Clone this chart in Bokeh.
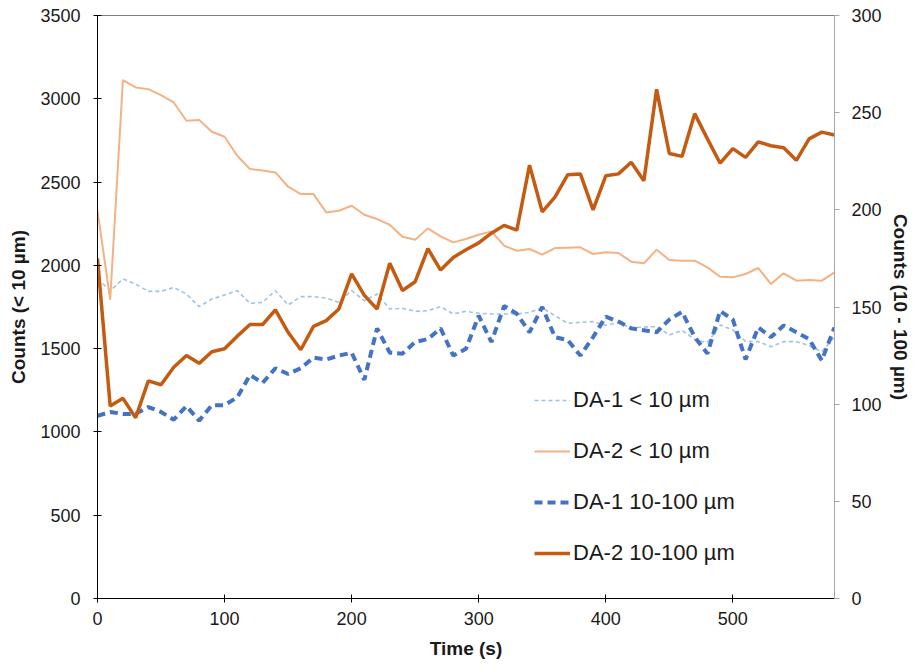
from bokeh.plotting import figure
from bokeh.models import Range1d, LinearAxis, FixedTicker, Legend, LegendItem, Span
from bokeh.embed import file_html
from bokeh.resources import INLINE

time_s = list(range(0, 590, 10))

da2_small = [2328, 1794, 3112, 3068, 3058, 3022, 2978, 2868, 2872, 2802,
             2772, 2658, 2578, 2570, 2558, 2472, 2428, 2428, 2318, 2328,
             2358, 2304, 2278, 2244, 2172, 2154, 2222, 2174, 2138, 2158,
             2184, 2204, 2118, 2088, 2098, 2064, 2104, 2106, 2108, 2068,
             2078, 2074, 2022, 2012, 2094, 2032, 2028, 2028, 1988, 1932,
             1928, 1948, 1984, 1888, 1952, 1908, 1912, 1908, 1958]

da1_small = [1920, 1848, 1918, 1888, 1844, 1844, 1868, 1828, 1752, 1798,
             1822, 1848, 1772, 1778, 1848, 1762, 1812, 1812, 1804, 1778,
             1848, 1788, 1828, 1738, 1742, 1724, 1728, 1752, 1708, 1724,
             1712, 1708, 1708, 1708, 1718, 1744, 1698, 1652, 1658, 1662,
             1640, 1655, 1625, 1630, 1632, 1582, 1610, 1555, 1535, 1642,
             1612, 1544, 1542, 1512, 1542, 1542, 1518, 1482, 1568]

da2_large = [175, 99, 103, 93, 112, 110, 119, 125, 121, 127,
             128.5, 135, 141, 141, 148.5, 137, 128, 140, 143, 149,
             167, 156, 149, 172.5, 158.5, 163, 180, 169, 175.5, 179.5,
             183, 188, 192, 189.5, 223, 199, 206.5, 218, 218.5, 200,
             217.5, 218.5, 224.5, 215, 262, 229, 227.5, 249.5, 236.5, 224,
             231.5, 227, 235, 233, 232, 225.5, 236.5, 240, 238.5]

da1_large = [94, 96, 95, 95, 98.5, 96, 92, 99, 91.5, 99.5,
             99.5, 103.5, 115, 111, 118.5, 115.5, 118.5, 124, 123, 125,
             126.5, 112.5, 139, 126.5, 126, 132, 133.5, 139, 125, 128.5,
             145.5, 132, 150.5, 146.5, 137, 150, 134.5, 133, 125, 134.5,
             145, 142.5, 139, 138, 137, 143.5, 147.5, 134.5, 126, 148,
             143.5, 123, 139.5, 134.5, 140.5, 137, 133.5, 122.5, 139.5]

x_ticks = [0, 100, 200, 300, 400, 500]
left_ticks = [0, 500, 1000, 1500, 2000, 2500, 3000, 3500]
right_ticks = [0, 50, 100, 150, 200, 250, 300]
labels = ["DA-1 < 10 µm", "DA-2 < 10 µm", "DA-1 10-100 µm", "DA-2 10-100 µm"]

FONT = "Liberation Sans"
TXT = "#1a1a1a"

p = figure(width=913, height=663, output_backend="svg", toolbar_location=None,
           x_range=Range1d(0, 580), y_range=Range1d(0, 3500),
           min_border_left=97, min_border_right=78, min_border_top=15, min_border_bottom=65)
p.extra_y_ranges = {"right": Range1d(0, 300)}
p.xgrid.visible = False
p.ygrid.visible = False
p.outline_line_color = None
p.background_fill_color = "white"
p.border_fill_color = "white"

def style_axis(ax):
    ax.major_label_text_font = FONT
    ax.major_label_text_font_size = "18px"
    ax.major_label_text_color = TXT
    ax.axis_label_text_font = FONT
    ax.axis_label_text_font_size = "19px"
    ax.axis_label_text_font_style = "bold"
    ax.axis_label_text_color = TXT
    ax.minor_tick_line_color = None

xa = p.xaxis[0]
xa.ticker = FixedTicker(ticks=x_ticks)
xa.axis_label = "Time (s)"
style_axis(xa)
xa.axis_line_color = "black"
xa.major_tick_line_color = "black"
xa.major_tick_in = 4
xa.major_tick_out = 4
xa.major_label_standoff = 9
xa.axis_label_standoff = 10

ya = p.yaxis[0]
ya.ticker = FixedTicker(ticks=left_ticks)
ya.axis_label = "Counts (< 10 µm)"
style_axis(ya)
ya.axis_line_color = "black"
ya.major_tick_line_color = "black"
ya.major_tick_in = 4
ya.major_tick_out = 4
ya.major_label_standoff = 13
ya.axis_label_standoff = 8

ra = LinearAxis(y_range_name="right", ticker=FixedTicker(ticks=right_ticks),
                axis_label="Counts (10 - 100 µm)")
style_axis(ra)
ra.axis_line_color = "#a6a6a6"
ra.major_tick_line_color = "#a6a6a6"
ra.major_tick_in = 0
ra.major_tick_out = 5
ra.major_label_standoff = 12
ra.axis_label_standoff = 5
p.add_layout(ra, "right")

p.add_layout(Span(location=3500, dimension="width", line_color="black", line_width=1))

r1 = p.line(time_s, da1_small, line_color="#9dc3e6", line_width=1.6, line_dash="4 3")
r2 = p.line(time_s, da2_small, line_color="#f4b183", line_width=2)
r3 = p.line(time_s, da1_large, y_range_name="right", line_color="#4472c4",
            line_width=4, line_dash="8 5")
r4 = p.line(time_s, da2_large, y_range_name="right", line_color="#c55a11",
            line_width=3.5)

legend = Legend(items=[LegendItem(label=labels[0], renderers=[r1]),
                       LegendItem(label=labels[1], renderers=[r2]),
                       LegendItem(label=labels[2], renderers=[r3]),
                       LegendItem(label=labels[3], renderers=[r4])],
                location=(437, 32))
legend.border_line_color = None
legend.background_fill_alpha = 0
legend.padding = 0
legend.margin = 0
legend.spacing = 25
legend.glyph_width = 36
legend.glyph_height = 24
legend.label_standoff = 3
legend.label_text_font = FONT
legend.label_text_font_size = "22px"
legend.label_text_color = TXT
p.add_layout(legend, "center")

open("out.html", "w").write(file_html(p, INLINE))
